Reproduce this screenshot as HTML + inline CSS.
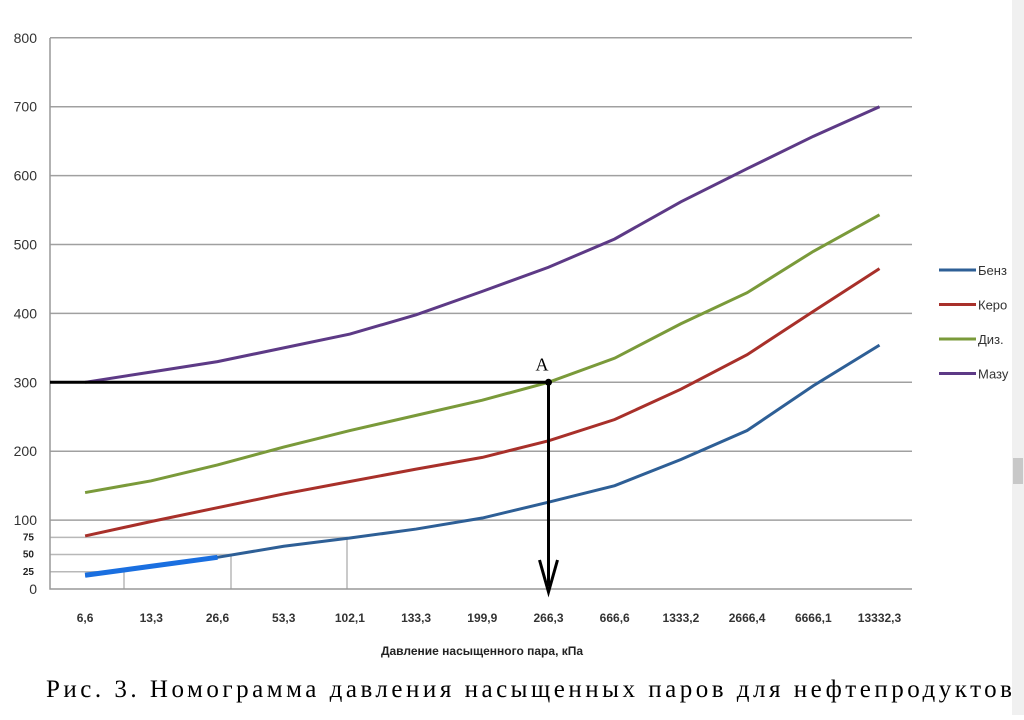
<!DOCTYPE html>
<html><head><meta charset="utf-8"><style>
body{margin:0;background:#fff;width:1024px;height:715px;overflow:hidden;font-family:"Liberation Sans",sans-serif}
</style></head><body>
<svg width="1024" height="715">
<rect x="1012" y="0" width="12" height="715" fill="#f0f0f0"/>
<rect x="1013" y="458" width="10" height="26" fill="#c8c8c8"/>
<g id="grid"></g><g id="series"></g><g id="overlay"></g>
<text x="482" y="655" text-anchor="middle" font-size="12" font-weight="bold" fill="#222">Давление насыщенного  пара, кПа</text>
<text x="46" y="697" font-family="Liberation Serif, serif" font-size="25" fill="#000" textLength="966" lengthAdjust="spacing">Рис. 3.  Номограмма давления насыщенных паров для нефтепродуктов</text>
</svg>
<script>
const categories=["6,6","13,3","26,6","53,3","102,1","133,3","199,9","266,3","666,6","1333,2","2666,4","6666,1","13332,3"];
const benz=[20,33,46,62,74,87,103,126,150,188,230,295,354];
const kero=[77,98,118,138,156,174,191,215,246,290,340,403,465];
const diz=[140,157,180,206,230,252,274,300,335,385,430,490,543];
const mazut=[300,315,330,350,370,398,432,467,508,562,610,657,700];
const yTicks=[0,100,200,300,400,500,600,700,800];
const NS="http://www.w3.org/2000/svg";
const X0=52,BW=66.2,Y0=589,K=0.689;
const x=i=>X0+(i+0.5)*BW, y=v=>Y0-v*K;
function mk(p,t,a){const e=document.createElementNS(NS,t);for(const k in a)e.setAttribute(k,a[k]);p.appendChild(e);return e;}
const g=document.getElementById('grid'),s=document.getElementById('series'),o=document.getElementById('overlay');
yTicks.forEach(v=>{
 if(v>0){const l=mk(g,'line',{x1:50,x2:912,y1:y(v),y2:y(v),stroke:'#a0a0a0','stroke-width':1.5});
 
 }
 const t=mk(g,'text',{x:37,y:y(v)+5,'text-anchor':'end','font-size':14,fill:'#333'});t.textContent=v;
 
 
});
[[75,347],[50,231],[25,124]].forEach(([v,xe])=>{
 const l=mk(g,'path',{d:`M50 ${y(v)}H${xe}V${Y0}`,fill:'none',stroke:'#b8b8b8','stroke-width':1.5});
 
 
 const t=mk(g,'text',{x:34,y:y(v)+3,'text-anchor':'end','font-size':10,'font-weight':'bold',fill:'#222'});t.textContent=v;
 
 
});
const ax=mk(g,'path',{d:`M50 38V${Y0}H912`,fill:'none',stroke:'#999','stroke-width':1.5});


categories.forEach((c,i)=>{const t=mk(g,'text',{x:x(i),y:622,'text-anchor':'middle','font-size':12,'font-weight':'bold',fill:'#333'});t.textContent=c;
 
 });
const ser=[["Бенз",benz,"#2e5f96"],["Керо",kero,"#a8302a"],["Диз.",diz,"#7a9a3a"],["Мазу",mazut,"#5d3a86"]];
ser.forEach(([n,d,c],k)=>{
 const p=mk(s,'polyline',{points:d.map((v,i)=>x(i)+','+y(v)).join(' '),fill:'none',stroke:c,'stroke-width':3});
 
 
 const ly=270+k*34.5;
 const l=mk(s,'line',{x1:939,x2:976,y1:ly,y2:ly,stroke:c,'stroke-width':3});
 
 
 const t=mk(s,'text',{x:978,y:ly+5,'font-size':13,fill:'#333'});t.textContent=n;
 
 
});
const hb=mk(s,'polyline',{points:[0,1,2].map(i=>x(i)+','+y(benz[i])).join(' '),fill:'none',stroke:'#1a6fe0','stroke-width':5});


const ai=7,av=300;
const hl=mk(o,'line',{x1:50,x2:x(ai),y1:y(av),y2:y(av),stroke:'#000','stroke-width':3});


const vl=mk(o,'line',{x1:x(ai),x2:x(ai),y1:y(av),y2:586,stroke:'#000','stroke-width':3});


const ah=mk(o,'path',{d:`M${x(ai)-9} 560L${x(ai)} 592L${x(ai)+9} 560`,fill:'none',stroke:'#000','stroke-width':3});


const pt=mk(o,'circle',{cx:x(ai),cy:y(av),r:3.5,fill:'#000'});


const la=mk(o,'text',{x:x(ai)-13,y:y(av)-12,'font-family':'Liberation Serif, serif','font-size':18,fill:'#000'});la.textContent='A';


</script>
</body></html>
